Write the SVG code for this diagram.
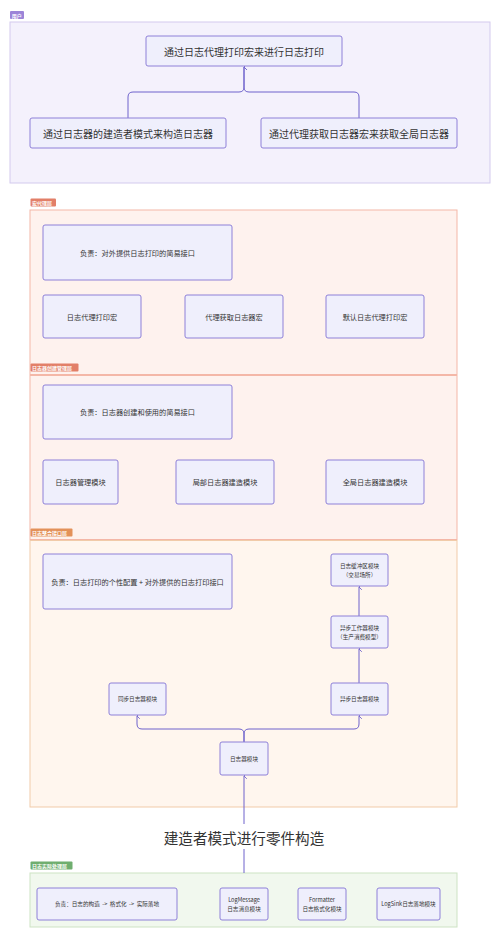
<svg xmlns="http://www.w3.org/2000/svg" width="500" height="938" viewBox="0 0 500 938">
<defs>
<marker id="arr" viewBox="0 0 10 10" refX="5" refY="1" markerWidth="7" markerHeight="7" orient="auto-start-reverse" markerUnits="userSpaceOnUse">
<path d="M1,5 L5,1 L9,5" fill="none" stroke="#6f63cc" stroke-width="1.3"/>
</marker>
<style>
text{font-family:"Noto Sans CJK SC","Noto Sans",sans-serif;fill:#333;text-anchor:middle;dominant-baseline:central}
.node rect{fill:#efeffc;stroke:#8e80d8;stroke-width:1}
.t10{font-size:10px}
.t7{font-size:7.2px}
.t5{font-size:5.6px}
.lbl{font-size:5px;fill:#fff;text-anchor:start;font-weight:bold}
.edge{fill:none;stroke:#6f63cc;stroke-width:1}
</style>
</defs>
<g id="clusters">
<g id="cl-user">
<rect x="10" y="22" width="480" height="161" fill="#f4f1fc" stroke="#d3caee" stroke-width="1"/>
<rect x="10" y="11" width="14" height="8" rx="1" fill="#9c84d8"/>
<text class="lbl" x="11.8" y="15">用户</text>
</g>
<g id="cl-macro">
<rect x="30" y="210" width="427" height="164.5" fill="#fef2ee" stroke="#f4b7a7" stroke-width="1"/>
</g>
<g id="cl-create">
<rect x="30" y="375.5" width="427" height="164" fill="#fef2ee" stroke="#f4b7a7" stroke-width="1"/>
</g>
<g id="cl-integrate">
<rect x="30" y="540.5" width="427" height="266.5" fill="#fff6ee" stroke="#f1cba9" stroke-width="1"/>
</g>
<g id="cl-real">
<rect x="30" y="873" width="427" height="54" fill="#f1f8ee" stroke="#cde3c4" stroke-width="1"/>
</g>
<g id="cl-labels">
<rect x="30.5" y="198.5" width="25.5" height="8" rx="1" fill="#e27f68"/>
<text class="lbl" x="32" y="202.5">宏代理层</text>
<rect x="30.5" y="363.5" width="48" height="8" rx="1" fill="#e27f68"/>
<text class="lbl" x="32" y="367.5">日志器创建管理层</text>
<rect x="30.5" y="528.5" width="42" height="8" rx="1" fill="#e3915a"/>
<text class="lbl" x="32" y="532.5">日志整合接口层</text>
<rect x="30.5" y="861.5" width="42" height="8" rx="1" fill="#6fae6f"/>
<text class="lbl" x="32" y="865.5">日志实际处理层</text>
</g>
</g>
<g id="connectors">
<path class="edge" d="M128,118 V97 Q128,92 133,92 H239 Q244,92 244,87 V67" marker-end="url(#arr)"/>
<path class="edge" d="M359,118 V97 Q359,92 354,92 H249 Q244,92 244,87 V67" marker-end="url(#arr)"/>
<path class="edge" d="M244,742 V734 Q244,729 239,729 H142 Q137,729 137,724 V716" marker-end="url(#arr)"/>
<path class="edge" d="M244,742 V734 Q244,729 249,729 H354 Q359,729 359,724 V716" marker-end="url(#arr)"/>
<path class="edge" d="M359,683 V649" marker-end="url(#arr)"/>
<path class="edge" d="M359,616 V587" marker-end="url(#arr)"/>
<path class="edge" d="M244,873 V776" marker-end="url(#arr)"/>
<rect x="160" y="824" width="168" height="25" fill="#ffffff"/>
<text x="244" y="837" style="font-size:14.6px">建造者模式进行零件构造</text>
</g>
<g id="n-print" class="node"><rect x="146" y="36" width="196" height="30" rx="2"/><text class="t10" x="244" y="51">通过日志代理打印宏来进行日志打印</text></g>
<g id="n-build" class="node"><rect x="30" y="118" width="196" height="30" rx="2"/><text class="t10" x="128" y="133">通过日志器的建造者模式来构造日志器</text></g>
<g id="n-get" class="node"><rect x="261" y="118" width="196" height="30" rx="2"/><text class="t10" x="359" y="133">通过代理获取日志器宏来获取全局日志器</text></g>

<g id="n-macro-desc" class="node"><rect x="43" y="225" width="189" height="55" rx="2"/><text class="t7" x="137.5" y="252.5">负责：对外提供日志打印的简易接口</text></g>
<g id="n-macro1" class="node"><rect x="43" y="295" width="98" height="43" rx="2"/><text class="t7" x="92" y="316.5">日志代理打印宏</text></g>
<g id="n-macro2" class="node"><rect x="185" y="295" width="98" height="43" rx="2"/><text class="t7" x="234" y="316.5">代理获取日志器宏</text></g>
<g id="n-macro3" class="node"><rect x="326" y="295" width="98" height="43" rx="2"/><text class="t7" x="375" y="316.5">默认日志代理打印宏</text></g>

<g id="n-create-desc" class="node"><rect x="43" y="385" width="189" height="54" rx="2"/><text class="t7" x="137.5" y="412">负责：日志器创建和使用的简易接口</text></g>
<g id="n-mgr" class="node"><rect x="43" y="460" width="75" height="44" rx="2"/><text class="t7" x="80.5" y="482">日志器管理模块</text></g>
<g id="n-local" class="node"><rect x="176" y="460" width="98" height="44" rx="2"/><text class="t7" x="225" y="482">局部日志器建造模块</text></g>
<g id="n-global" class="node"><rect x="326" y="460" width="98" height="44" rx="2"/><text class="t7" x="375" y="482">全局日志器建造模块</text></g>

<g id="n-int-desc" class="node"><rect x="43" y="554" width="189" height="55" rx="2"/><text class="t7" x="137.5" y="581.5">负责：日志打印的个性配置 + 对外提供的日志打印接口</text></g>
<g id="n-buffer" class="node"><rect x="331" y="554" width="57" height="32" rx="2"/><text class="t5" x="359.5" y="566">日志缓冲区模块</text><text class="t5" x="359.5" y="574.5">（交易场所）</text></g>
<g id="n-worker" class="node"><rect x="331" y="616" width="57" height="32" rx="2"/><text class="t5" x="359.5" y="628">异步工作器模块</text><text class="t5" x="359.5" y="636.5">（生产消费模型）</text></g>
<g id="n-sync" class="node"><rect x="109" y="683" width="57" height="32" rx="2"/><text class="t5" x="137.5" y="699">同步日志器模块</text></g>
<g id="n-async" class="node"><rect x="331" y="683" width="57" height="32" rx="2"/><text class="t5" x="359.5" y="699">异步日志器模块</text></g>
<g id="n-logger" class="node"><rect x="220" y="742" width="48" height="33" rx="2"/><text class="t5" x="244" y="758.5">日志器模块</text></g>

<g id="n-real-desc" class="node"><rect x="37" y="888" width="140" height="32" rx="2"/><text class="t5" x="107" y="904" xml:space="preserve">负责：日志的构造  -&gt;  格式化  -&gt;  实际落地</text></g>
<g id="n-msg" class="node"><rect x="220" y="888" width="48" height="32" rx="2"/><text class="t5" x="244" y="900">LogMessage</text><text class="t5" x="244" y="908.5">日志消息模块</text></g>
<g id="n-fmt" class="node"><rect x="298" y="888" width="48" height="32" rx="2"/><text class="t5" x="322" y="900">Formatter</text><text class="t5" x="322" y="908.5">日志格式化模块</text></g>
<g id="n-sink" class="node"><rect x="377" y="888" width="63" height="32" rx="2"/><text class="t5" x="408.5" y="904">LogSink日志落地模块</text></g>
</svg>
